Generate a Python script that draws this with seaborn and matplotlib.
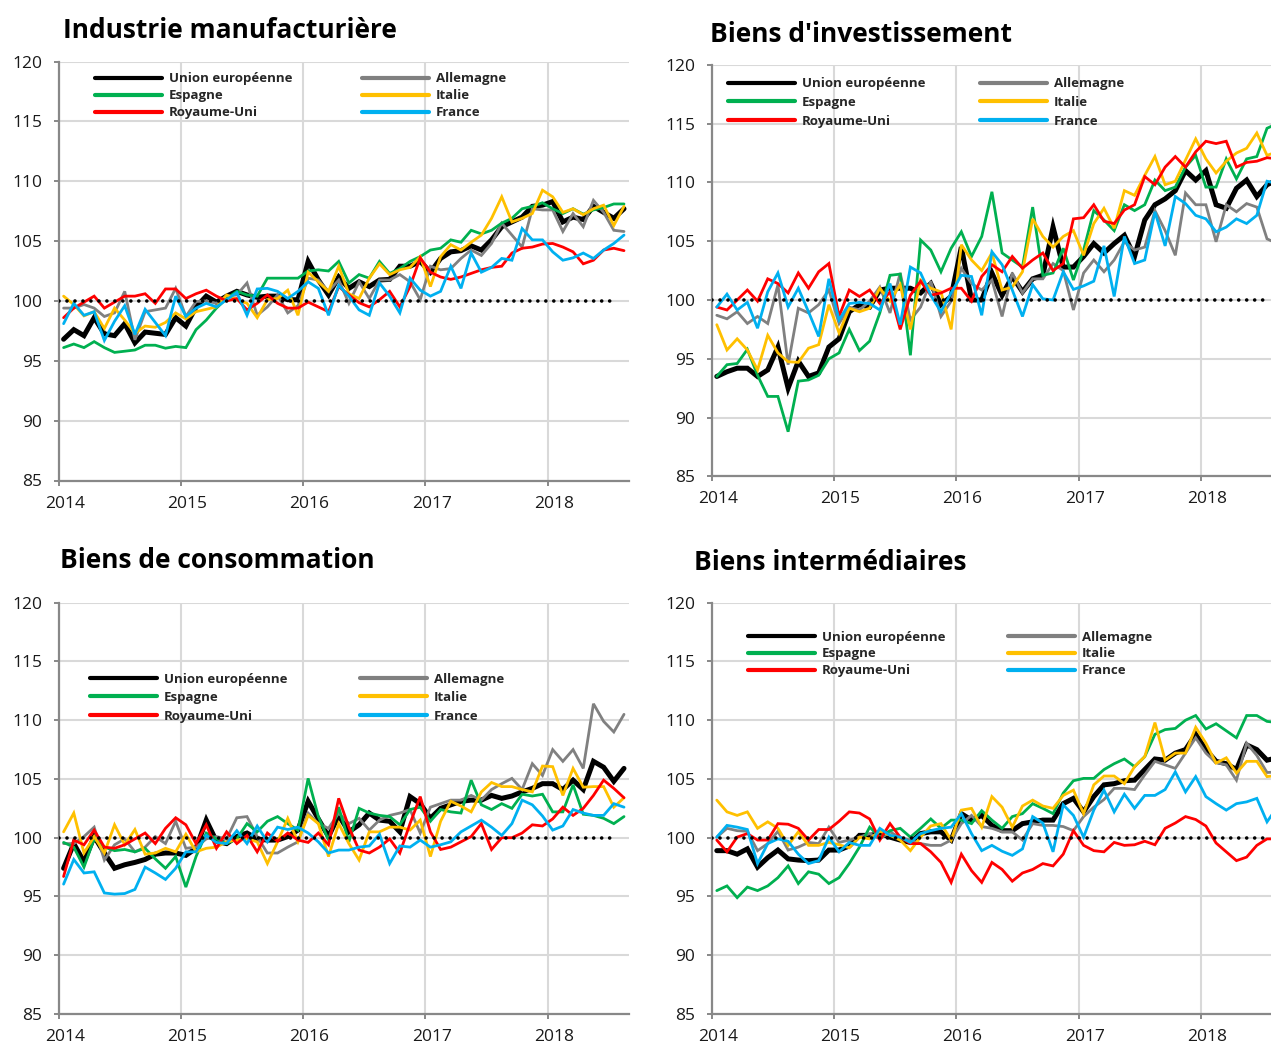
import numpy as np
import pandas as pd
import matplotlib
matplotlib.use("Agg")
import matplotlib.pyplot as plt
import seaborn as sns
from matplotlib.transforms import ScaledTranslation

# ---------------- data ----------------
months = np.arange(56) + 0.5          # Jan 2014 .. Aug 2018, plotted mid-month
year_ticks = [0, 12, 24, 36, 48]
year_labels = ["2014", "2015", "2016", "2017", "2018"]
y_ticks = [85, 90, 95, 100, 105, 110, 115, 120]
base_level = 100

countries = ["Union européenne", "Espagne", "Royaume-Uni", "Allemagne", "Italie", "France"]
titles = ["Industrie manufacturière", "Biens d'investissement",
          "Biens de consommation", "Biens intermédiaires"]

ind_ue = [96.8, 97.6, 97.1, 98.6, 97.25, 97.1, 98.1, 96.5, 97.4, 97.3, 97.2, 98.6, 97.9, 99.5, 100.4, 99.9, 100.4, 100.8, 100.5, 100.3, 100.4, 100.4, 100.1, 100.1, 103.3, 101.75, 100.5, 102.0, 101.05, 101.6, 101.2, 101.75, 101.8, 102.9, 102.9, 103.3, 102.4, 103.55, 104.1, 104.2, 104.6, 104.25, 105.1, 106.2, 106.6, 107.0, 107.9, 108.0, 108.3, 106.6, 107.0, 106.8, 107.9, 107.4, 106.9, 107.7]
ind_es = [96.1, 96.4, 96.1, 96.6, 96.1, 95.7, 95.8, 95.9, 96.3, 96.3, 96.05, 96.2, 96.1, 97.6, 98.4, 99.4, 100.2, 100.8, 100.5, 100.4, 101.9, 101.9, 101.9, 101.9, 102.5, 102.6, 102.5, 103.3, 101.5, 102.2, 101.9, 103.3, 102.3, 102.7, 103.3, 103.7, 104.25, 104.4, 105.1, 104.9, 105.9, 105.6, 105.9, 106.5, 106.9, 107.7, 107.9, 108.2, 107.7, 107.3, 107.7, 107.25, 107.6, 107.8, 108.1, 108.1]
ind_uk = [98.6, 99.4, 99.9, 100.4, 99.4, 99.9, 100.4, 100.4, 100.6, 99.8, 101.0, 101.0, 100.2, 100.6, 100.9, 100.4, 100.0, 100.2, 99.25, 99.8, 100.5, 99.8, 99.4, 99.4, 99.9, 99.5, 99.1, 101.2, 100.5, 99.85, 99.5, 100.1, 100.8, 99.5, 101.2, 103.6, 102.4, 102.0, 101.8, 102.0, 102.3, 102.6, 102.8, 102.9, 104.0, 104.4, 104.5, 104.75, 104.8, 104.5, 104.1, 103.1, 103.4, 104.25, 104.4, 104.2]
ind_de = [99.4, 99.4, 99.7, 99.4, 98.7, 99.0, 100.8, 96.75, 99.1, 99.25, 99.4, 101.05, 98.7, 99.95, 100.0, 99.8, 100.4, 100.5, 101.5, 98.8, 99.5, 100.5, 99.0, 99.6, 101.9, 101.75, 100.8, 101.75, 99.8, 101.6, 100.2, 101.75, 101.75, 102.2, 101.6, 100.1, 102.9, 102.6, 102.7, 103.55, 104.25, 103.8, 104.8, 106.5, 105.5, 104.5, 107.7, 107.6, 107.6, 105.8, 107.3, 106.2, 108.4, 107.4, 105.9, 105.8]
ind_it = [100.4, 99.7, 98.75, 99.1, 97.7, 99.4, 98.4, 97.3, 97.9, 97.8, 98.2, 99.0, 98.5, 99.1, 99.3, 99.5, 100.5, 100.1, 99.8, 98.6, 100.1, 100.2, 100.9, 98.8, 102.4, 101.6, 100.8, 102.9, 100.6, 100.2, 101.9, 103.1, 102.2, 102.6, 102.8, 103.7, 101.2, 103.7, 104.7, 104.25, 104.9, 105.5, 106.9, 108.7, 106.6, 106.9, 107.3, 109.25, 108.7, 107.4, 107.7, 107.2, 107.7, 108.0, 106.3, 107.9]
ind_fr = [98.1, 99.8, 98.8, 99.1, 96.7, 98.3, 99.6, 97.2, 99.3, 98.2, 97.1, 100.4, 98.7, 99.4, 99.8, 99.5, 100.1, 100.7, 98.8, 101.0, 101.05, 100.8, 100.2, 100.8, 101.6, 101.05, 98.8, 101.3, 100.4, 99.25, 98.8, 101.5, 100.4, 99.0, 101.9, 100.9, 100.4, 100.8, 102.9, 101.05, 104.0, 102.4, 102.8, 103.55, 103.4, 106.05, 105.1, 105.1, 104.1, 103.4, 103.6, 104.0, 103.55, 104.25, 104.8, 105.5]

inv_ue = [93.5, 93.9, 94.2, 94.2, 93.5, 94.05, 96.0, 92.5, 94.8, 93.5, 93.8, 96.0, 96.7, 99.0, 99.6, 99.4, 100.85, 101.0, 101.0, 101.0, 100.6, 101.4, 99.6, 100.3, 104.5, 100.0, 100.0, 102.3, 100.4, 102.0, 100.7, 101.8, 102.1, 106.2, 102.8, 102.8, 103.7, 104.8, 104.0, 104.8, 105.5, 103.7, 106.8, 108.1, 108.6, 109.3, 111.0, 110.2, 111.0, 108.1, 107.8, 109.5, 110.2, 108.8, 109.8, 110.2]
inv_es = [93.5, 94.5, 94.6, 95.8, 93.6, 91.8, 91.8, 88.8, 93.1, 93.2, 93.6, 95.0, 95.5, 97.5, 95.7, 96.5, 98.9, 102.1, 102.2, 95.3, 105.1, 104.25, 102.4, 104.4, 105.8, 103.7, 105.4, 109.2, 104.0, 103.4, 102.8, 107.9, 102.1, 102.3, 104.4, 101.7, 104.25, 107.6, 106.8, 105.9, 108.1, 107.6, 108.1, 110.2, 109.3, 109.6, 111.3, 112.3, 109.6, 109.6, 112.0, 110.3, 112.0, 112.2, 114.6, 115.0]
inv_uk = [99.4, 99.15, 100.0, 100.85, 99.9, 101.8, 101.4, 100.6, 102.3, 101.0, 102.4, 103.1, 98.6, 100.85, 100.3, 100.85, 99.7, 100.7, 97.5, 100.4, 101.6, 100.4, 100.6, 101.0, 101.0, 99.9, 102.0, 103.0, 102.4, 103.7, 102.7, 103.4, 104.0, 102.5, 103.1, 106.9, 107.0, 108.1, 106.7, 106.5, 107.65, 108.1, 110.5, 109.8, 111.3, 112.2, 111.3, 112.6, 113.5, 113.3, 113.5, 111.3, 111.7, 111.8, 112.1, 112.0]
inv_de = [98.7, 98.4, 99.0, 98.0, 98.6, 98.0, 101.3, 94.5, 99.3, 98.9, 99.6, 100.85, 98.0, 99.4, 99.15, 99.9, 101.1, 98.9, 102.3, 98.3, 99.4, 101.6, 98.6, 99.9, 102.7, 101.4, 100.85, 101.7, 98.6, 102.3, 100.6, 101.8, 101.8, 103.1, 102.5, 99.15, 102.3, 103.4, 102.4, 103.4, 104.95, 104.25, 104.5, 107.6, 105.9, 103.8, 109.1, 108.1, 108.1, 104.95, 108.1, 107.5, 108.2, 107.9, 105.2, 104.8]
inv_it = [97.9, 95.75, 96.7, 95.75, 94.05, 97.0, 95.5, 94.75, 94.7, 95.9, 96.2, 99.6, 97.2, 99.3, 99.0, 99.3, 101.0, 99.9, 101.3, 97.5, 101.7, 101.0, 100.7, 97.5, 104.7, 103.4, 102.5, 104.0, 100.85, 101.1, 102.4, 106.9, 105.4, 104.5, 105.4, 105.9, 103.8, 106.5, 107.8, 106.1, 109.3, 108.9, 110.6, 112.2, 109.8, 110.1, 111.9, 113.7, 112.0, 110.8, 111.8, 112.5, 112.9, 114.2, 112.3, 112.6]
inv_fr = [99.4, 100.5, 99.15, 99.8, 97.6, 100.7, 102.3, 99.4, 101.0, 99.0, 96.9, 101.8, 98.3, 99.7, 99.8, 99.7, 99.15, 101.4, 97.9, 102.8, 102.3, 100.4, 99.0, 100.6, 102.1, 102.0, 98.7, 104.1, 103.0, 100.85, 98.6, 101.3, 100.1, 100.0, 102.4, 100.9, 101.2, 101.6, 104.6, 100.3, 105.4, 103.1, 103.4, 107.5, 104.6, 108.8, 108.2, 107.2, 106.9, 105.8, 106.2, 106.9, 106.5, 107.2, 110.1, 109.9]

con_ue = [97.4, 99.5, 97.95, 100.1, 98.7, 97.4, 97.7, 97.9, 98.15, 98.6, 98.7, 98.7, 98.5, 99.1, 101.5, 99.7, 99.5, 100.1, 100.4, 99.9, 99.8, 99.8, 100.1, 100.65, 103.1, 101.6, 100.1, 101.9, 100.5, 101.1, 102.1, 101.5, 101.4, 100.5, 103.5, 102.9, 101.65, 102.5, 102.8, 103.1, 103.2, 103.2, 103.6, 103.35, 103.55, 103.9, 104.2, 104.6, 104.6, 104.1, 104.9, 104.1, 106.5, 106.0, 104.8, 105.9]
con_es = [99.6, 99.2, 97.5, 99.9, 99.2, 98.9, 99.0, 98.8, 99.1, 98.2, 97.4, 98.4, 95.8, 98.4, 100.4, 99.9, 99.5, 99.9, 101.2, 100.5, 101.4, 101.8, 101.2, 100.65, 105.05, 101.8, 99.8, 102.6, 99.65, 102.5, 102.1, 101.9, 101.8, 101.1, 102.4, 102.6, 101.4, 102.4, 102.2, 102.1, 104.9, 102.8, 102.4, 102.9, 102.5, 103.7, 103.55, 103.7, 102.2, 102.2, 104.5, 102.0, 101.9, 101.65, 101.2, 101.8]
con_uk = [96.7, 99.8, 99.4, 100.65, 99.2, 99.1, 99.4, 99.9, 100.4, 99.5, 100.8, 101.7, 101.1, 99.5, 101.1, 99.1, 100.5, 99.5, 100.2, 98.8, 100.4, 99.7, 100.4, 99.8, 99.6, 100.4, 99.4, 103.35, 100.9, 98.95, 98.7, 99.2, 99.9, 98.7, 101.2, 103.5, 100.5, 99.0, 99.2, 99.65, 100.1, 101.2, 99.0, 100.0, 100.0, 100.4, 101.1, 101.0, 101.6, 102.6, 101.9, 102.5, 103.6, 104.9, 104.2, 103.4]
con_de = [99.5, 99.5, 100.1, 100.9, 98.1, 99.4, 99.9, 98.8, 99.2, 100.1, 99.5, 101.4, 99.1, 99.2, 99.9, 100.1, 99.9, 101.7, 101.8, 100.1, 98.7, 98.7, 99.2, 99.65, 102.1, 101.2, 100.8, 102.1, 101.2, 101.65, 100.65, 101.5, 101.9, 102.1, 102.4, 100.4, 102.6, 102.9, 103.2, 103.2, 103.6, 103.2, 104.1, 104.6, 105.05, 104.1, 106.3, 105.3, 107.5, 106.5, 107.5, 105.9, 111.4, 109.9, 109.0, 110.5]
con_it = [100.5, 102.1, 98.7, 100.1, 98.7, 101.1, 99.4, 100.7, 98.6, 98.7, 99.1, 98.8, 100.3, 98.8, 99.1, 99.2, 99.65, 99.8, 99.9, 99.65, 97.8, 99.65, 101.65, 99.65, 101.9, 101.2, 98.4, 101.2, 99.5, 98.1, 100.5, 100.5, 100.9, 100.9, 100.65, 101.5, 98.4, 101.4, 103.1, 102.7, 102.2, 103.9, 104.7, 104.35, 104.35, 104.1, 103.9, 106.1, 106.05, 103.6, 105.9, 104.3, 104.35, 104.35, 102.6, 103.4]
con_fr = [96.05, 98.15, 97.0, 97.1, 95.3, 95.2, 95.25, 95.6, 97.5, 97.0, 96.45, 97.4, 98.8, 98.8, 100.2, 99.6, 99.5, 100.6, 99.5, 101.0, 99.65, 100.9, 100.7, 100.9, 100.4, 99.65, 98.7, 98.95, 98.95, 99.2, 99.3, 100.3, 97.8, 99.3, 99.2, 99.8, 99.2, 99.4, 99.65, 100.5, 101.0, 101.5, 100.9, 100.2, 101.2, 103.2, 102.8, 101.85, 100.65, 101.0, 102.4, 102.1, 101.9, 101.9, 102.9, 102.6]

int_ue = [98.9, 98.9, 98.6, 99.05, 97.5, 98.3, 98.95, 98.2, 98.1, 98.05, 98.1, 98.95, 98.95, 99.3, 100.2, 100.2, 100.35, 100.05, 99.8, 99.6, 100.35, 100.5, 100.5, 99.8, 102.05, 101.5, 101.9, 101.05, 100.6, 100.6, 101.2, 101.35, 101.5, 101.5, 102.9, 103.35, 102.2, 103.5, 104.5, 104.6, 104.85, 104.9, 105.8, 106.7, 106.6, 107.2, 107.5, 108.8, 107.5, 106.5, 106.3, 105.8, 107.9, 107.5, 106.6, 106.8]
int_es = [95.5, 95.9, 94.9, 95.8, 95.5, 95.9, 96.6, 97.6, 96.1, 97.1, 96.9, 96.1, 96.6, 97.8, 99.2, 100.9, 100.05, 100.6, 100.8, 100.05, 100.8, 101.6, 100.8, 101.5, 101.5, 101.2, 102.3, 101.5, 100.8, 101.8, 102.05, 102.9, 102.5, 102.05, 103.8, 104.85, 105.05, 105.05, 105.8, 106.3, 106.7, 106.05, 106.9, 108.8, 109.2, 109.3, 110.0, 110.4, 109.25, 109.7, 109.1, 108.5, 110.4, 110.4, 109.9, 109.8]
int_uk = [99.8, 98.8, 100.05, 100.35, 99.8, 99.8, 101.2, 101.15, 100.8, 99.8, 100.7, 100.7, 101.4, 102.2, 102.1, 101.6, 99.8, 101.2, 100.05, 99.5, 99.5, 98.8, 97.9, 96.2, 98.6, 97.2, 96.2, 97.9, 97.3, 96.3, 97.0, 97.3, 97.8, 97.6, 98.6, 100.6, 99.35, 98.9, 98.8, 99.6, 99.35, 99.4, 99.7, 99.4, 100.8, 101.25, 101.8, 101.55, 101.0, 99.55, 98.8, 98.05, 98.35, 99.35, 99.9, 99.9]
int_de = [100.05, 100.8, 100.6, 100.55, 98.9, 99.5, 100.55, 98.95, 99.2, 99.6, 99.5, 100.9, 99.6, 99.8, 100.05, 100.35, 99.9, 100.5, 100.0, 99.8, 99.5, 99.35, 99.35, 99.8, 101.2, 101.9, 100.95, 100.8, 100.5, 100.5, 99.8, 101.2, 101.05, 101.05, 100.95, 100.6, 101.8, 102.6, 103.25, 104.2, 104.2, 104.1, 105.35, 106.5, 106.2, 105.9, 107.2, 108.5, 107.2, 106.4, 106.2, 104.9, 108.05, 107.0, 105.55, 105.6]
int_it = [103.2, 102.2, 101.9, 102.2, 100.8, 101.35, 100.8, 99.35, 100.5, 99.35, 99.35, 99.6, 99.4, 99.15, 100.05, 99.9, 100.55, 100.2, 99.8, 98.9, 100.05, 101.0, 101.2, 99.8, 102.35, 102.5, 100.9, 103.5, 102.6, 100.9, 102.7, 103.2, 102.7, 102.5, 103.6, 104.05, 102.05, 104.5, 105.25, 105.25, 104.6, 106.05, 106.9, 109.8, 106.6, 107.2, 107.2, 109.4, 108.05, 106.35, 106.8, 105.5, 106.5, 106.5, 105.2, 105.3]
int_fr = [100.05, 101.05, 100.9, 100.7, 97.8, 99.5, 99.9, 99.7, 98.6, 97.8, 98.05, 100.05, 98.8, 99.6, 99.35, 99.35, 100.8, 100.2, 100.05, 99.6, 100.35, 100.6, 100.8, 100.9, 102.05, 100.35, 98.9, 99.35, 98.85, 98.5, 99.05, 101.8, 101.25, 98.8, 102.8, 101.9, 100.05, 102.35, 104.05, 102.2, 103.7, 102.5, 103.6, 103.6, 104.1, 105.6, 103.9, 105.2, 103.5, 102.9, 102.35, 102.9, 103.05, 103.35, 101.35, 102.6]

panels = [
    [ind_ue, ind_es, ind_uk, ind_de, ind_it, ind_fr],
    [inv_ue, inv_es, inv_uk, inv_de, inv_it, inv_fr],
    [con_ue, con_es, con_uk, con_de, con_it, con_fr],
    [int_ue, int_es, int_uk, int_de, int_it, int_fr],
]

# ---------------- style ----------------
colors = {"Union européenne": "#000000", "Espagne": "#00B050", "Royaume-Uni": "#FF0000",
          "Allemagne": "#808080", "Italie": "#FFC000", "France": "#00B0F0"}
widths = {"Union européenne": 3.6, "Espagne": 2.0, "Royaume-Uni": 2.0,
          "Allemagne": 2.0, "Italie": 2.0, "France": 2.0}
zorders = {"Union européenne": 3, "Allemagne": 4, "Espagne": 5, "Italie": 6,
           "Royaume-Uni": 7, "France": 8}

sns.set_theme(style="white")
plt.rcParams["font.family"] = ["Open Sans", "DejaVu Sans"]
TITLE_FONT = ["Open Sans", "DejaVu Sans"]

W, H = 1271, 1043
fig = plt.figure(figsize=(W / 100, H / 100), dpi=100)

AX_W = 570.6
# (left, top, bottom) in pixels
ax_px = [(58.5, 61.5, 480.5), (711.7, 64.8, 476.4), (58.5, 602.7, 1014.0), (711.7, 602.7, 1014.0)]
title_px = [(63, 30), (710, 34), (60, 560), (694, 563)]
# legend: (col1 x, col2 x, first row center y, row spacing)
legend_px = [(95, 362, 78, 0.30), (728, 980, 83, 0.42), (90, 360, 678, 0.42), (748, 1008, 636, 0.30)]

GRID = "#D9D9D9"
SPINE = "#888888"

for k in range(4):
    l, t, b = ax_px[k]
    ax = fig.add_axes([l / W, 1 - b / H, AX_W / W, (b - t) / H])
    handles = {}
    for name, vals in zip(countries, panels[k]):
        sns.lineplot(x=months, y=vals, ax=ax, color=colors[name], linewidth=widths[name],
                     zorder=zorders[name], legend=False, solid_joinstyle="miter")
        handles[name] = ax.lines[-1]
    ax.hlines(base_level, 0, 54.8, colors="black", linewidth=2.6,
              linestyles=(0, (0.01, 2.2)), capstyle="round", zorder=9)
    for seg in ax.collections:
        seg.set_capstyle("round")

    ax.set_xlim(0, 56)
    ax.set_ylim(85, 120)
    ax.set_xticks(year_ticks)
    ax.set_xticklabels(year_labels)
    ax.set_yticks(y_ticks)
    ax.set_yticklabels([str(v) for v in y_ticks])
    ax.set_xlabel("")
    ax.set_ylabel("")
    ax.grid(True, color=GRID, linewidth=1.5, zorder=0)
    ax.set_axisbelow(True)
    for s in ["top", "right"]:
        ax.spines[s].set_visible(False)
    for s in ["left", "bottom"]:
        ax.spines[s].set_color(SPINE)
        ax.spines[s].set_linewidth(1.6)
        ax.spines[s].set_zorder(2)
    ax.tick_params(axis="both", which="major", direction="out", length=3.8, width=1.4,
                   color=SPINE, labelsize=12.5, labelcolor="#1a1a1a")
    ax.tick_params(axis="y", pad=8)
    ax.tick_params(axis="x", pad=7)
    ax.tick_params(left=True, bottom=True)
    for lab in ax.get_xticklabels():
        lab.set_transform(lab.get_transform() + ScaledTranslation(4.5 / 72, 0, fig.dpi_scale_trans))

    # legends (two columns, placed separately)
    x1, x2, yr, lsp = legend_px[k]
    fs = 9.5
    common = dict(loc="upper left", bbox_transform=fig.transFigure, frameon=False,
                  borderpad=0, borderaxespad=0, handlelength=5.1, handletextpad=0.5,
                  labelspacing=lsp, prop={"family": TITLE_FONT, "weight": "bold", "size": fs})
    top_y = 1 - (yr - 5.5) / H
    leg1 = ax.legend([handles[n] for n in countries[:3]], countries[:3],
                     bbox_to_anchor=(x1 / W, top_y), **common)
    ax.add_artist(leg1)
    leg2 = ax.legend([handles[n] for n in countries[3:]], countries[3:],
                     bbox_to_anchor=(x2 / W, top_y), **common)
    for lg in (leg1, leg2):
        for ln in lg.get_lines():
            ln.set_linewidth(3.0)

    tx, ty = title_px[k]
    fig.text(tx / W, 1 - ty / H, titles[k], ha="left", va="center", fontsize=19,
             fontweight="bold", family=TITLE_FONT, color="black")

fig.savefig("out.png", dpi=100)
